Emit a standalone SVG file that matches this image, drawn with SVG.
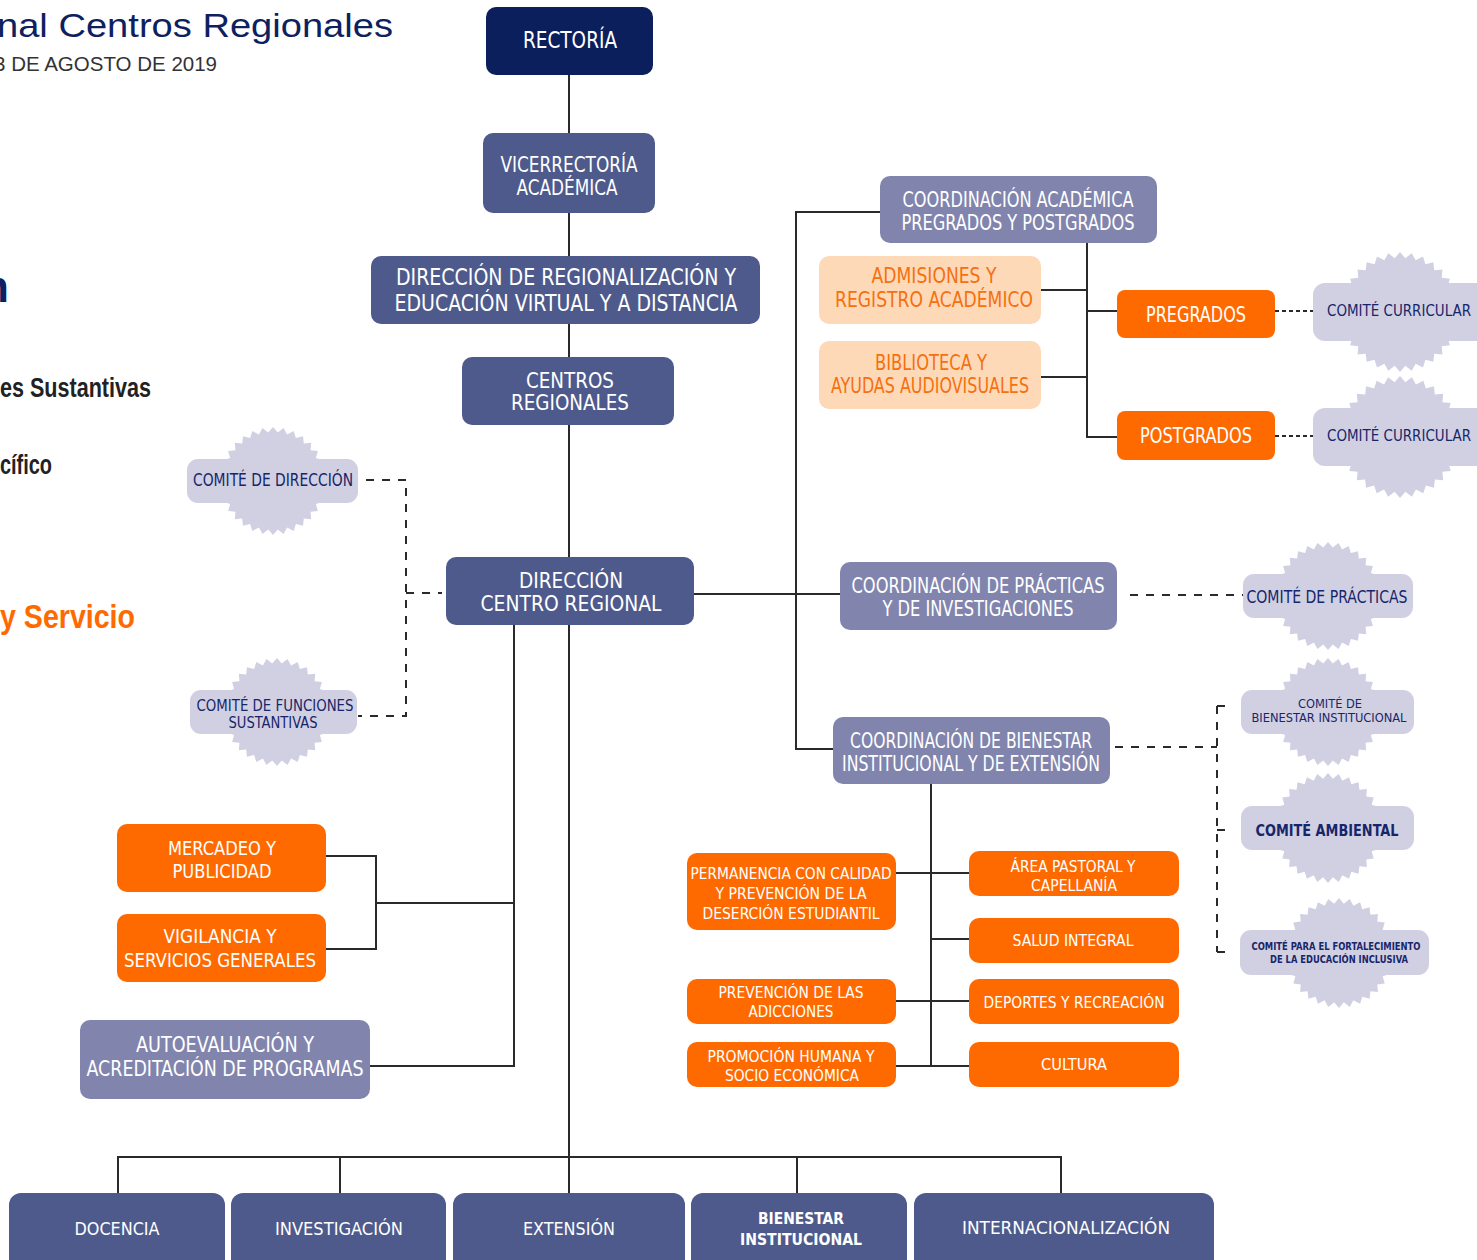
<svg xmlns="http://www.w3.org/2000/svg" xmlns:xlink="http://www.w3.org/1999/xlink" width="1477" height="1260" viewBox="0 0 1477 1260">
<style>
.ln{fill:none;stroke:#2a2a2a;stroke-width:2}
.dash{fill:none;stroke:#2a2a2a;stroke-width:2;stroke-dasharray:8 8}
.dot{fill:none;stroke:#2a2a2a;stroke-width:2;stroke-dasharray:4 3}
.nav{fill:#0b1f5d}
.blu{fill:#4e5a8c}
.lav{fill:#8185ae}
.org{fill:#ff6a00}
.pch{fill:#fdd9b8}
.cf{fill:#d1d0e3}
text{font-family:"DejaVu Sans Condensed","DejaVu Sans",sans-serif;text-anchor:middle}
.w{fill:#ffffff}
.ot{fill:#f5700f}
.nt{fill:#17266a}
.b{font-weight:bold}
.ttl{font-family:"Liberation Sans",Arial,sans-serif}
</style>
<defs>
<path id="star" d="M100,0 L89.6,8.8 98.1,19.5 86.1,26.1 92.4,38.3 79.4,42.4 83.1,55.6 69.6,57.1 70.7,70.7 57.1,69.6 55.6,83.1 42.4,79.4 38.3,92.4 26.1,86.1 19.5,98.1 8.8,89.6 0,100 -8.8,89.6 -19.5,98.1 -26.1,86.1 -38.3,92.4 -42.4,79.4 -55.6,83.1 -57.1,69.6 -70.7,70.7 -69.6,57.1 -83.1,55.6 -79.4,42.4 -92.4,38.3 -86.1,26.1 -98.1,19.5 -89.6,8.8 -100,0 -89.6,-8.8 -98.1,-19.5 -86.1,-26.1 -92.4,-38.3 -79.4,-42.4 -83.1,-55.6 -69.6,-57.1 -70.7,-70.7 -57.1,-69.6 -55.6,-83.1 -42.4,-79.4 -38.3,-92.4 -26.1,-86.1 -19.5,-98.1 -8.8,-89.6 0,-100 8.8,-89.6 19.5,-98.1 26.1,-86.1 38.3,-92.4 42.4,-79.4 55.6,-83.1 57.1,-69.6 70.7,-70.7 69.6,-57.1 83.1,-55.6 79.4,-42.4 92.4,-38.3 86.1,-26.1 98.1,-19.5 89.6,-8.8 Z"/>
</defs>
<rect width="1477" height="1260" fill="#ffffff"/>

<g id="titles">
<text class="ttl" x="-3" y="37" font-size="34" fill="#0d2160" style="text-anchor:start" textLength="396" lengthAdjust="spacingAndGlyphs">nal Centros Regionales</text>
<text class="ttl" x="217" y="71" font-size="20.5" fill="#333333" style="text-anchor:end">3 DE AGOSTO DE 2019</text>
<text class="ttl b" x="9" y="302" font-size="44" fill="#0d2160" style="text-anchor:end">n</text>
<text class="ttl b" x="0" y="397" font-size="27" fill="#222222" style="text-anchor:start" textLength="151" lengthAdjust="spacingAndGlyphs">es Sustantivas</text>
<text class="ttl b" x="0" y="474" font-size="27" fill="#222222" style="text-anchor:start" textLength="52" lengthAdjust="spacingAndGlyphs">cífico</text>
<text class="ttl b" x="0" y="628" font-size="34" fill="#ff6a00" style="text-anchor:start" textLength="135" lengthAdjust="spacingAndGlyphs">y Servicio</text>
</g>

<g id="connectors">
<path class="ln" d="M569,75 V1193"/>
<path class="ln" d="M118,1193 V1157 H1061 V1193 M340,1157 V1193 M797,1157 V1193"/>
<path class="ln" d="M694,594 H840"/>
<path class="ln" d="M880,212 H796 V749 H833"/>
<path class="ln" d="M1087,243 V437 H1117 M1040,290 H1087 M1040,377 H1087 M1087,311 H1117"/>
<path class="dot" d="M1275,311 H1313 M1275,436 H1313"/>
<path class="ln" d="M931,784 V1066 M896,873 H969 M931,939 H969 M896,1001 H969 M896,1066 H969"/>
<path class="ln" d="M514,625 V1066 H370 M514,903 H376 M326,856 H376 V949 H326"/>
<path class="dash" d="M366,480 H406 V716 H358 M406,593 H442"/>
<path class="dash" d="M1130,595 H1243"/>
<path class="dash" d="M1115,747 H1217 M1217,706 V952 M1217,706 H1226 M1217,830 H1226 M1217,952 H1226"/>
</g>

<g id="rectoria"><rect class="nav" x="486" y="7" width="167" height="68" rx="10"/><text class="w" x="570" y="48" font-size="23" textLength="94" lengthAdjust="spacingAndGlyphs">RECTORÍA</text></g>
<g id="vicerrectoria"><rect class="blu" x="483" y="133" width="172" height="80" rx="10"/><text class="w" x="569" y="172" font-size="20.5" textLength="137" lengthAdjust="spacingAndGlyphs">VICERRECTORÍA</text><text class="w" x="567" y="195" font-size="20.5" textLength="101" lengthAdjust="spacingAndGlyphs">ACADÉMICA</text></g>
<g id="dir-regionalizacion"><rect class="blu" x="371" y="256" width="389" height="68" rx="10"/><text class="w" x="566" y="285" font-size="23" textLength="340" lengthAdjust="spacingAndGlyphs">DIRECCIÓN DE REGIONALIZACIÓN Y</text><text class="w" x="566" y="311" font-size="23" textLength="343" lengthAdjust="spacingAndGlyphs">EDUCACIÓN VIRTUAL Y A DISTANCIA</text></g>
<g id="centros-regionales"><rect class="blu" x="462" y="357" width="212" height="68" rx="10"/><text class="w" x="570" y="388" font-size="21" textLength="88" lengthAdjust="spacingAndGlyphs">CENTROS</text><text class="w" x="570" y="410" font-size="21" textLength="118" lengthAdjust="spacingAndGlyphs">REGIONALES</text></g>
<g id="dir-centro"><rect class="blu" x="446" y="557" width="248" height="68" rx="10"/><text class="w" x="571" y="588" font-size="22" textLength="104" lengthAdjust="spacingAndGlyphs">DIRECCIÓN</text><text class="w" x="571" y="611" font-size="22" textLength="181" lengthAdjust="spacingAndGlyphs">CENTRO REGIONAL</text></g>

<g id="coord-academica"><rect class="lav" x="880" y="176" width="277" height="67" rx="10"/><text class="w" x="1018" y="207" font-size="20.5" textLength="231" lengthAdjust="spacingAndGlyphs">COORDINACIÓN ACADÉMICA</text><text class="w" x="1018" y="230" font-size="20.5" textLength="233" lengthAdjust="spacingAndGlyphs">PREGRADOS Y POSTGRADOS</text></g>
<g id="admisiones"><rect class="pch" x="819" y="256" width="222" height="68" rx="10"/><text class="ot" x="934" y="283" font-size="20.5" textLength="125" lengthAdjust="spacingAndGlyphs">ADMISIONES Y</text><text class="ot" x="934" y="307" font-size="20.5" textLength="198" lengthAdjust="spacingAndGlyphs">REGISTRO ACADÉMICO</text></g>
<g id="biblioteca"><rect class="pch" x="819" y="341" width="222" height="68" rx="10"/><text class="ot" x="931" y="370" font-size="20.5" textLength="112" lengthAdjust="spacingAndGlyphs">BIBLIOTECA Y</text><text class="ot" x="930" y="393" font-size="20.5" textLength="198" lengthAdjust="spacingAndGlyphs">AYUDAS AUDIOVISUALES</text></g>
<g id="pregrados"><rect class="org" x="1117" y="290" width="158" height="48" rx="8"/><text class="w" x="1196" y="322" font-size="20.5" textLength="100" lengthAdjust="spacingAndGlyphs">PREGRADOS</text></g>
<g id="postgrados"><rect class="org" x="1117" y="411" width="158" height="49" rx="8"/><text class="w" x="1196" y="443" font-size="20.5" textLength="112" lengthAdjust="spacingAndGlyphs">POSTGRADOS</text></g>
<g id="comite-curricular-1"><use href="#star" class="cf" transform="translate(1400,312) scale(0.6)"/><rect class="cf" x="1313" y="283" width="180" height="58" rx="12"/><text class="nt" x="1399" y="316" font-size="15.5" textLength="144" lengthAdjust="spacingAndGlyphs">COMITÉ CURRICULAR</text></g>
<g id="comite-curricular-2"><use href="#star" class="cf" transform="translate(1400,437) scale(0.61)"/><rect class="cf" x="1313" y="408" width="180" height="58" rx="12"/><text class="nt" x="1399" y="441" font-size="15.5" textLength="144" lengthAdjust="spacingAndGlyphs">COMITÉ CURRICULAR</text></g>

<g id="coord-practicas"><rect class="lav" x="840" y="562" width="277" height="68" rx="10"/><text class="w" x="978" y="593" font-size="20.5" textLength="253" lengthAdjust="spacingAndGlyphs">COORDINACIÓN DE PRÁCTICAS</text><text class="w" x="978" y="616" font-size="20.5" textLength="191" lengthAdjust="spacingAndGlyphs">Y DE INVESTIGACIONES</text></g>
<g id="comite-practicas"><use href="#star" class="cf" transform="translate(1328,596) scale(0.54)"/><rect class="cf" x="1243" y="574" width="170" height="44" rx="11"/><text class="nt" x="1327" y="603" font-size="17" textLength="161" lengthAdjust="spacingAndGlyphs">COMITÉ DE PRÁCTICAS</text></g>

<g id="coord-bienestar"><rect class="lav" x="833" y="717" width="277" height="67" rx="10"/><text class="w" x="971" y="748" font-size="20.5" textLength="242" lengthAdjust="spacingAndGlyphs">COORDINACIÓN DE BIENESTAR</text><text class="w" x="971" y="771" font-size="20.5" textLength="258" lengthAdjust="spacingAndGlyphs">INSTITUCIONAL Y DE EXTENSIÓN</text></g>
<g id="comite-bienestar"><use href="#star" class="cf" transform="translate(1328,712) scale(0.54)"/><rect class="cf" x="1241" y="690" width="173" height="44" rx="11"/><text class="nt" x="1330" y="708" font-size="12.5" textLength="64" lengthAdjust="spacingAndGlyphs">COMITÉ DE</text><text class="nt" x="1329" y="722" font-size="12.5" textLength="155" lengthAdjust="spacingAndGlyphs">BIENESTAR INSTITUCIONAL</text></g>
<g id="comite-ambiental"><use href="#star" class="cf" transform="translate(1328,828) scale(0.55)"/><rect class="cf" x="1241" y="806" width="173" height="44" rx="11"/><text class="nt b" x="1327" y="836" font-size="16" textLength="143" lengthAdjust="spacingAndGlyphs">COMITÉ AMBIENTAL</text></g>
<g id="comite-inclusiva"><use href="#star" class="cf" transform="translate(1339,953) scale(0.55)"/><rect class="cf" x="1240" y="930" width="189" height="45" rx="11"/><text class="nt b" x="1336" y="950" font-size="10" textLength="169" lengthAdjust="spacingAndGlyphs">COMITÉ PARA EL FORTALECIMIENTO</text><text class="nt b" x="1339" y="963" font-size="10" textLength="138" lengthAdjust="spacingAndGlyphs">DE LA EDUCACIÓN INCLUSIVA</text></g>

<g id="permanencia"><rect class="org" x="687" y="853" width="209" height="77" rx="10"/><text class="w" x="791" y="879" font-size="16.5" textLength="201" lengthAdjust="spacingAndGlyphs">PERMANENCIA CON CALIDAD</text><text class="w" x="791" y="899" font-size="16.5" textLength="151" lengthAdjust="spacingAndGlyphs">Y PREVENCIÓN DE LA</text><text class="w" x="791" y="919" font-size="16.5" textLength="177" lengthAdjust="spacingAndGlyphs">DESERCIÓN ESTUDIANTIL</text></g>
<g id="adicciones"><rect class="org" x="687" y="979" width="209" height="45" rx="10"/><text class="w" x="791" y="998" font-size="16.5" textLength="145" lengthAdjust="spacingAndGlyphs">PREVENCIÓN DE LAS</text><text class="w" x="791" y="1017" font-size="16.5" textLength="85" lengthAdjust="spacingAndGlyphs">ADICCIONES</text></g>
<g id="promocion"><rect class="org" x="687" y="1042" width="209" height="45" rx="10"/><text class="w" x="791" y="1062" font-size="16.5" textLength="167" lengthAdjust="spacingAndGlyphs">PROMOCIÓN HUMANA Y</text><text class="w" x="792" y="1081" font-size="16.5" textLength="134" lengthAdjust="spacingAndGlyphs">SOCIO ECONÓMICA</text></g>
<g id="pastoral"><rect class="org" x="969" y="851" width="210" height="45" rx="10"/><text class="w" x="1073" y="872" font-size="16.5" textLength="125" lengthAdjust="spacingAndGlyphs">ÁREA PASTORAL Y</text><text class="w" x="1074" y="891" font-size="16.5" textLength="86" lengthAdjust="spacingAndGlyphs">CAPELLANÍA</text></g>
<g id="salud"><rect class="org" x="969" y="918" width="210" height="45" rx="10"/><text class="w" x="1073" y="946" font-size="16.5" textLength="121" lengthAdjust="spacingAndGlyphs">SALUD INTEGRAL</text></g>
<g id="deportes"><rect class="org" x="969" y="979" width="210" height="45" rx="10"/><text class="w" x="1074" y="1008" font-size="16.5" textLength="181" lengthAdjust="spacingAndGlyphs">DEPORTES Y RECREACIÓN</text></g>
<g id="cultura"><rect class="org" x="969" y="1042" width="210" height="45" rx="10"/><text class="w" x="1074" y="1070" font-size="16.5" textLength="66" lengthAdjust="spacingAndGlyphs">CULTURA</text></g>

<g id="comite-direccion"><use href="#star" class="cf" transform="translate(273,481) scale(0.54)"/><rect class="cf" x="187" y="459" width="171" height="44" rx="11"/><text class="nt" x="273" y="486" font-size="17" textLength="160" lengthAdjust="spacingAndGlyphs">COMITÉ DE DIRECCIÓN</text></g>
<g id="comite-funciones"><use href="#star" class="cf" transform="translate(277,712) scale(0.54)"/><rect class="cf" x="190" y="690" width="167" height="44" rx="11"/><text class="nt" x="275" y="711" font-size="15" textLength="157" lengthAdjust="spacingAndGlyphs">COMITÉ DE FUNCIONES</text><text class="nt" x="273" y="728" font-size="15" textLength="89" lengthAdjust="spacingAndGlyphs">SUSTANTIVAS</text></g>

<g id="mercadeo"><rect class="org" x="117" y="824" width="209" height="68" rx="10"/><text class="w" x="222" y="855" font-size="20" textLength="108" lengthAdjust="spacingAndGlyphs">MERCADEO Y</text><text class="w" x="222" y="878" font-size="20" textLength="99" lengthAdjust="spacingAndGlyphs">PUBLICIDAD</text></g>
<g id="vigilancia"><rect class="org" x="117" y="914" width="209" height="68" rx="10"/><text class="w" x="220" y="943" font-size="20" textLength="113" lengthAdjust="spacingAndGlyphs">VIGILANCIA Y</text><text class="w" x="220" y="967" font-size="20" textLength="192" lengthAdjust="spacingAndGlyphs">SERVICIOS GENERALES</text></g>
<g id="autoevaluacion"><rect class="lav" x="80" y="1020" width="290" height="79" rx="10"/><text class="w" x="225" y="1052" font-size="21" textLength="178" lengthAdjust="spacingAndGlyphs">AUTOEVALUACIÓN Y</text><text class="w" x="225" y="1076" font-size="21" textLength="277" lengthAdjust="spacingAndGlyphs">ACREDITACIÓN DE PROGRAMAS</text></g>

<g id="docencia"><rect class="blu" x="9" y="1193" width="216" height="80" rx="12"/><text class="w" x="117" y="1235" font-size="18" textLength="85" lengthAdjust="spacingAndGlyphs">DOCENCIA</text></g>
<g id="investigacion"><rect class="blu" x="231" y="1193" width="215" height="80" rx="12"/><text class="w" x="339" y="1235" font-size="18" textLength="128" lengthAdjust="spacingAndGlyphs">INVESTIGACIÓN</text></g>
<g id="extension"><rect class="blu" x="453" y="1193" width="232" height="80" rx="12"/><text class="w" x="569" y="1235" font-size="18" textLength="92" lengthAdjust="spacingAndGlyphs">EXTENSIÓN</text></g>
<g id="bienestar"><rect class="blu" x="691" y="1193" width="216" height="80" rx="12"/><text class="w b" x="801" y="1224" font-size="16.5" textLength="86" lengthAdjust="spacingAndGlyphs">BIENESTAR</text><text class="w b" x="801" y="1245" font-size="16.5" textLength="122" lengthAdjust="spacingAndGlyphs">INSTITUCIONAL</text></g>
<g id="internacionalizacion"><rect class="blu" x="914" y="1193" width="300" height="80" rx="12"/><text class="w" x="1066" y="1234" font-size="18" textLength="208" lengthAdjust="spacingAndGlyphs">INTERNACIONALIZACIÓN</text></g>
</svg>
